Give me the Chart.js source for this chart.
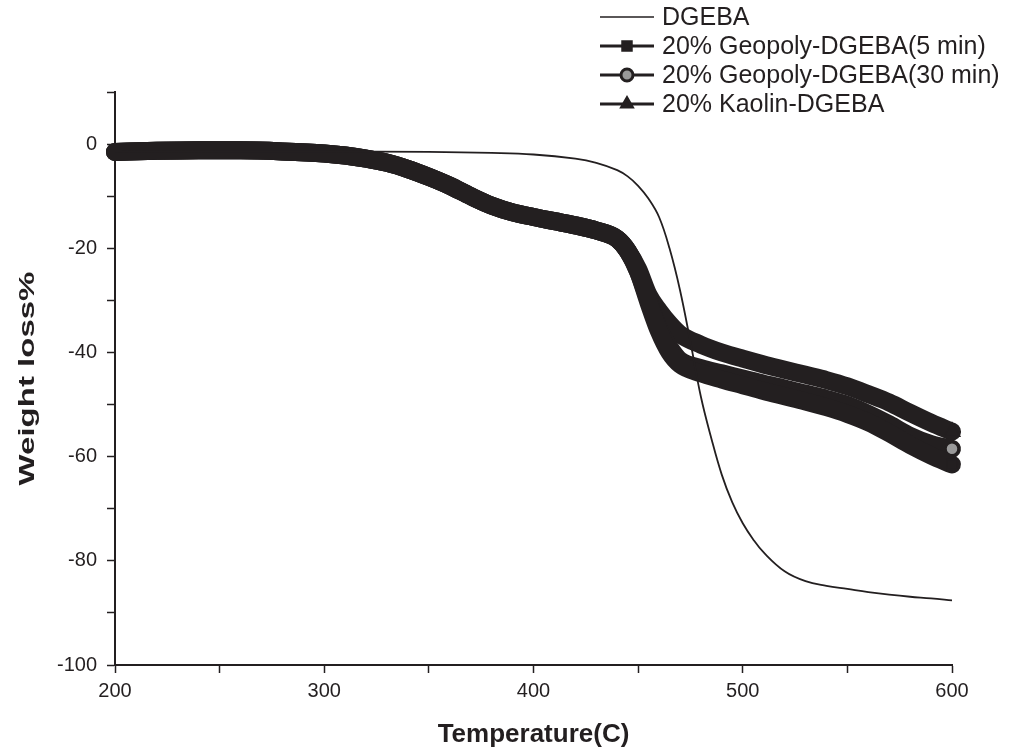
<!DOCTYPE html>
<html>
<head>
<meta charset="utf-8">
<script src="https://cdn.jsdelivr.net/npm/chart.js@4/dist/chart.umd.min.js"></script>
<style>
  html, body { margin: 0; background: #fff; }
</style>
</head>
<body>
<canvas id="tgaChart" width="1015" height="753"></canvas>
<script>
// ---- data ----
const temps = [200, 220, 240, 260, 280, 300, 310, 320, 330, 340, 350, 360, 370, 380, 390, 400,
  410, 420, 430, 440, 445, 450, 455, 460, 465, 470, 480, 490, 500, 510, 520, 530, 540, 550,
  560, 570, 580, 590, 600];

const geo5Loss = [-1.5, -1.3, -1.2, -1.2, -1.4, -1.8, -2.2, -2.8, -3.6, -4.8, -6.3, -8.0, -10.0,
  -11.8, -13.1, -14.0, -14.8, -15.6, -16.6, -18.2, -20.5, -24.5, -30.5, -36.0, -40.0, -42.3,
  -44.0, -45.2, -46.3, -47.4, -48.4, -49.4, -50.5, -51.8, -53.4, -55.5, -57.8, -59.8, -61.5];

const geo30Loss = [-1.5, -1.3, -1.2, -1.2, -1.4, -1.8, -2.2, -2.8, -3.6, -4.8, -6.3, -8.0, -10.0,
  -11.8, -13.1, -14.0, -14.8, -15.6, -16.6, -18.2, -20.5, -24.5, -30.0, -35.5, -39.0, -41.5,
  -43.0, -44.0, -45.0, -46.0, -46.9, -47.9, -48.9, -50.1, -51.8, -53.8, -56.0, -57.6, -58.5];

const kaolinLoss = [-1.5, -1.3, -1.2, -1.2, -1.4, -1.8, -2.2, -2.8, -3.6, -4.8, -6.3, -8.0, -10.0,
  -11.8, -13.1, -14.0, -14.8, -15.6, -16.6, -18.2, -20.5, -24.0, -29.0, -32.0, -34.5, -36.5,
  -38.5, -40.0, -41.2, -42.3, -43.3, -44.3, -45.3, -46.5, -48.0, -49.6, -51.6, -53.5, -55.2];

const dgebaTemps = [200, 250, 300, 350, 380, 400, 420, 430, 440, 445, 450, 455, 460, 465, 470,
  475, 480, 485, 490, 495, 500, 505, 510, 520, 530, 540, 550, 560, 570, 580, 590, 600];
const dgebaLoss = [-1.5, -1.4, -1.4, -1.5, -1.7, -2.0, -2.8, -3.6, -5.0, -6.2, -8.0, -10.5, -14.0,
  -20.0, -28.0, -38.0, -48.5, -56.5, -63.5, -68.8, -72.8, -75.9, -78.4, -82.0, -83.9, -84.8, -85.4,
  -86.0, -86.5, -86.9, -87.2, -87.6];

const seriesNames = ['DGEBA', '20% Geopoly-DGEBA(5 min)', '20% Geopoly-DGEBA(30 min)', '20% Kaolin-DGEBA'];
const xTickLabels = [200, 300, 400, 500, 600];
const yTickLabels = [0, -20, -40, -60, -80, -100];
const yTitle = 'Weight loss%';

const ink = '#231f20';
const tickFont = { family: '"Liberation Sans", Arial, sans-serif', size: 20 };
const pts = (xs, ys) => xs.map((x, i) => ({ x: x, y: ys[i] }));
const lastOnly = r => ctx => ctx.dataIndex === ctx.dataset.data.length - 1 ? r : 0;

// Legend with line + marker, like the original plot; also the stretched y title
const lineLegend = {
  id: 'lineLegend',
  afterDraw(chart) {
    const ctx = chart.ctx;
    chart.data.datasets.forEach((ds, i) => {
      const y = 17 + i * 29;
      ctx.save();
      ctx.strokeStyle = ink;
      ctx.lineWidth = i === 0 ? 1.5 : 3;
      ctx.beginPath();
      ctx.moveTo(600, y);
      ctx.lineTo(654, y);
      ctx.stroke();
      if (ds.legendStyle) {
        ctx.fillStyle = ds.pointBackgroundColor;
        ctx.strokeStyle = ink;
        Chart.helpers.drawPoint(ctx, { pointStyle: ds.legendStyle, radius: 6, borderWidth: 1.5, rotation: 0 }, 627, y);
      }
      ctx.fillStyle = ink;
      ctx.font = '25px "Liberation Sans", Arial, sans-serif';
      ctx.textBaseline = 'middle';
      ctx.fillText(ds.label, 662, y + 1);
      ctx.restore();
    });

    // y axis title, tall like the scanned figure
    const area = chart.chartArea;
    ctx.save();
    ctx.translate(28, (area.top + area.bottom) / 2);
    ctx.rotate(-Math.PI / 2);
    ctx.scale(1.5, 1);
    ctx.fillStyle = ink;
    ctx.font = 'bold 22px "Liberation Sans", Arial, sans-serif';
    ctx.textAlign = 'center';
    ctx.textBaseline = 'middle';
    ctx.fillText(yTitle, 0, 0);
    ctx.restore();
  }
};

const bandStyle = {
  borderColor: ink,
  borderWidth: 18,
  borderCapStyle: 'round',
  borderJoinStyle: 'round',
  cubicInterpolationMode: 'monotone',
  pointBorderColor: ink,
  pointBorderWidth: 1.5,
  pointHoverRadius: 0,
  clip: false
};

new Chart(document.getElementById('tgaChart').getContext('2d'), {
  type: 'line',
  data: {
    datasets: [
      { label: seriesNames[0], data: pts(dgebaTemps, dgebaLoss), borderColor: ink, borderWidth: 1.8,
        tension: 0.4, pointRadius: 0, clip: false, order: -1 },
      { ...bandStyle, label: seriesNames[1], data: pts(temps, geo5Loss),
        pointStyle: 'rect', legendStyle: 'rect', pointRadius: lastOnly(7), pointBackgroundColor: ink },
      { ...bandStyle, label: seriesNames[2], data: pts(temps, geo30Loss),
        pointStyle: 'circle', legendStyle: 'circle', pointRadius: lastOnly(6), pointBackgroundColor: '#9a9a9a' },
      { ...bandStyle, label: seriesNames[3], data: pts(temps, kaolinLoss),
        pointStyle: 'triangle', legendStyle: 'triangle', pointRadius: lastOnly(9), pointBackgroundColor: ink }
    ]
  },
  options: {
    responsive: false,
    animation: false,
    layout: { padding: { top: 92, right: 63, left: 0, bottom: 0 } },
    plugins: { legend: { display: false }, tooltip: { enabled: false } },
    scales: {
      x: {
        type: 'linear',
        min: 200, max: 600,
        afterFit: s => { s.height = 88; },
        grid: { drawOnChartArea: false, drawTicks: true, tickLength: 8, tickColor: ink, tickWidth: 1.5 },
        border: { display: true, color: ink, width: 2 },
        ticks: {
          stepSize: 50, color: ink, padding: 6, font: tickFont,
          callback: v => xTickLabels.includes(v) ? String(v) : ''
        },
        title: {
          display: true, text: 'Temperature(C)', color: ink, padding: 3,
          font: { family: '"Liberation Sans", Arial', size: 26, weight: 'bold' }
        }
      },
      y: {
        min: -100, max: 10,
        afterFit: s => { s.width = 115; },
        grid: { drawOnChartArea: false, drawTicks: true, tickLength: 8, tickColor: ink, tickWidth: 1.5 },
        border: { display: true, color: ink, width: 2 },
        ticks: {
          stepSize: 10, color: ink, padding: 10, font: tickFont,
          callback: v => yTickLabels.includes(v) ? String(v) : ''
        }
      }
    }
  },
  plugins: [lineLegend]
});
</script>
</body>
</html>
